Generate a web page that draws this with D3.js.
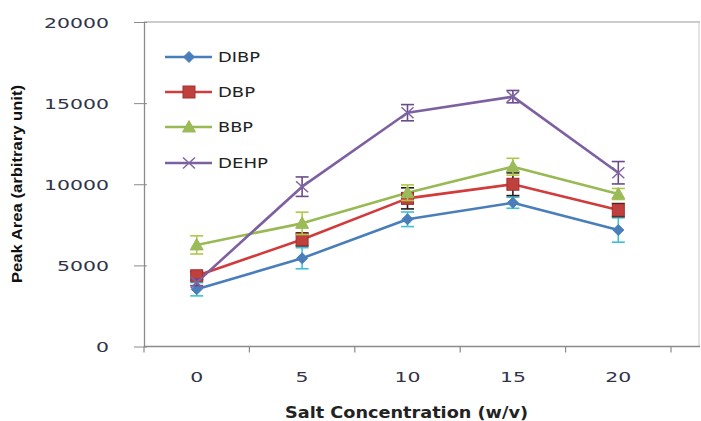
<!DOCTYPE html>
<html><head><meta charset="utf-8">
<script src="https://cdn.jsdelivr.net/npm/d3@7"></script>
<style>body{margin:0;background:#fff}svg{display:block}</style>
</head><body><div id="chart"></div>
<script>
const categories = ["0", "5", "10", "15", "20"];
const seriesNames = ["DIBP", "DBP", "BBP", "DEHP"];
const DIBP = [3530, 5440, 7840, 8860, 7180];
const DBP = [4360, 6600, 9130, 10000, 8410];
const BBP = [6260, 7590, 9480, 11080, 9400];
const DEHP = [3950, 9850, 14410, 15400, 10710];
const DIBP_err = [410, 650, 450, 340, 750];
const DBP_err = [250, 400, 650, 700, 400];
const BBP_err = [560, 690, 480, 520, 340];
const DEHP_err = [200, 600, 500, 380, 690];
const yTicks = [0, 5000, 10000, 15000, 20000];

(function () {
const lineColors = ["#4a7ebb", "#d13b3b", "#98b954", "#7d60a0"];
const markerColors = ["#4a7ebb", "#c0403d", "#9bbb59", "#8064a2"];
const errColors = ["#3ec1d6", "#2a1a1a", "#b0c84a", "#6a4c8c"];
const markers = ["diamond", "square", "triangle", "x"];
const values = [DIBP, DBP, BBP, DEHP];
const errs = [DIBP_err, DBP_err, BBP_err, DEHP_err];
const FONT = "DejaVu Sans, Verdana, sans-serif";
const TXT = "#33334a";

const W = 701, H = 421;
const svg = d3.select("#chart").append("svg").attr("width", W).attr("height", H);
const mLeft = 144, mTop = 22, mBottom = 346.5, bandRight = 671, frameRight = 700;

const x = d3.scaleBand().domain(categories).range([mLeft, bandRight]);
const y = d3.scaleLinear().domain([0, 20000]).range([mBottom, mTop]);

// frame
svg.append("line").attr("x1", mLeft).attr("x2", frameRight).attr("y1", mTop).attr("y2", mTop)
  .attr("stroke", "#9a9a9a").attr("stroke-width", 1.2);
svg.append("line").attr("x1", frameRight - 1).attr("x2", frameRight - 1).attr("y1", mTop).attr("y2", mBottom)
  .attr("stroke", "#c8c8c8").attr("stroke-width", 1);

// y axis
const yAxis = d3.axisLeft(y).tickValues(yTicks).tickSize(9).tickSizeOuter(0).tickPadding(26)
  .tickFormat(d3.format("d"));
const gy = svg.append("g").attr("transform", `translate(${mLeft},0)`).call(yAxis);
gy.select(".domain").attr("stroke", "#8a8a8a").attr("stroke-width", 1.3);
gy.selectAll(".tick line").attr("stroke", "#8a8a8a").attr("x2", 3).attr("x1", -10);
gy.selectAll(".tick text").attr("font-family", FONT)
  .attr("font-size", 14.5).attr("fill", TXT).attr("dy", "0.36em")
  .attr("textLength", d => String(d).length * 13).attr("lengthAdjust", "spacingAndGlyphs");

// x axis
svg.append("line").attr("x1", mLeft).attr("x2", frameRight).attr("y1", mBottom).attr("y2", mBottom)
  .attr("stroke", "#8a8a8a").attr("stroke-width", 1.3);
const bounds = categories.map(c => x(c)).concat([bandRight]);
svg.selectAll(".xt").data(bounds).enter().append("line")
  .attr("x1", d => d).attr("x2", d => d).attr("y1", mBottom).attr("y2", mBottom + 6)
  .attr("stroke", "#8a8a8a").attr("stroke-width", 1.2);
svg.selectAll(".xl").data(categories).enter().append("text")
  .attr("x", d => x(d) + x.bandwidth() / 2 - d.length * 6.5).attr("y", 382)
  .attr("font-family", FONT).attr("font-size", 14.5).attr("fill", TXT)
  .attr("textLength", d => d.length * 13).attr("lengthAdjust", "spacingAndGlyphs").text(d => d);

// axis titles
svg.append("text").attr("x", 285).attr("y", 418)
  .attr("font-family", FONT).attr("font-weight", "bold")
  .attr("font-size", 15).attr("fill", "#222")
  .attr("textLength", 243).attr("lengthAdjust", "spacingAndGlyphs")
  .text("Salt Concentration (w/v)");
svg.append("text").attr("transform", "translate(22,283) rotate(-90)")
  .attr("font-family", "Liberation Sans Narrow, Arial Narrow, Liberation Sans, sans-serif")
  .attr("font-weight", "bold").attr("font-size", 14.5).attr("fill", "#111")
  .attr("textLength", 198).attr("lengthAdjust", "spacingAndGlyphs")
  .text("Peak Area (arbitrary unit)");

function drawMarker(g, type, cx, cy, i) {
  if (type === "diamond") {
    g.append("path").attr("d", `M${cx},${cy - 5.5}L${cx + 5.5},${cy}L${cx},${cy + 5.5}L${cx - 5.5},${cy}Z`)
      .attr("fill", markerColors[i]).attr("stroke", markerColors[i]);
  } else if (type === "square") {
    g.append("rect").attr("x", cx - 6).attr("y", cy - 6).attr("width", 12).attr("height", 12)
      .attr("fill", markerColors[i]).attr("stroke", "#a03030").attr("stroke-width", 1);
  } else if (type === "triangle") {
    g.append("path").attr("d", `M${cx},${cy - 6.5}L${cx + 6.5},${cy + 5}L${cx - 6.5},${cy + 5}Z`)
      .attr("fill", markerColors[i]).attr("stroke", markerColors[i]);
  } else {
    g.append("path").attr("d", `M${cx - 6},${cy - 5.5}L${cx + 6},${cy + 5.5}M${cx - 6},${cy + 5.5}L${cx + 6},${cy - 5.5}`)
      .attr("stroke", markerColors[i]).attr("stroke-width", 1.5).attr("fill", "none");
  }
}

const cxOf = c => x(c) + x.bandwidth() / 2;
const line = d3.line().x((d, j) => cxOf(categories[j])).y(d => y(d));

values.forEach((vals, i) => {
  svg.append("path").datum(vals).attr("d", line).attr("fill", "none")
    .attr("stroke", lineColors[i]).attr("stroke-width", 2.6).attr("stroke-linejoin", "round");
});
values.forEach((vals, i) => {
  const g = svg.append("g");
  vals.forEach((v, j) => {
    const cx = cxOf(categories[j]);
    const e = errs[i][j];
    const y1 = y(v + e), y2 = y(v - e);
    g.append("line").attr("x1", cx).attr("x2", cx).attr("y1", y1).attr("y2", y2)
      .attr("stroke", errColors[i]).attr("stroke-width", 1.6);
    [y1, y2].forEach(yy => g.append("line").attr("x1", cx - 6.5).attr("x2", cx + 6.5)
      .attr("y1", yy).attr("y2", yy).attr("stroke", errColors[i]).attr("stroke-width", 1.6));
    drawMarker(g, markers[i], cx, y(v), i);
  });
});

const legY = [57, 92, 127, 163];
const legW = [42, 37, 35, 50];
seriesNames.forEach((name, i) => {
  const g = svg.append("g");
  g.append("line").attr("x1", 165).attr("x2", 212).attr("y1", legY[i]).attr("y2", legY[i])
    .attr("stroke", lineColors[i]).attr("stroke-width", 2.6);
  drawMarker(g, markers[i], 189, legY[i], i);
  g.append("text").attr("x", 218).attr("y", legY[i]).attr("dy", "0.36em")
    .attr("font-family", FONT).attr("font-size", 14)
    .attr("textLength", legW[i]).attr("lengthAdjust", "spacingAndGlyphs")
    .attr("fill", "#222").text(name);
});
})();
</script></body></html>
